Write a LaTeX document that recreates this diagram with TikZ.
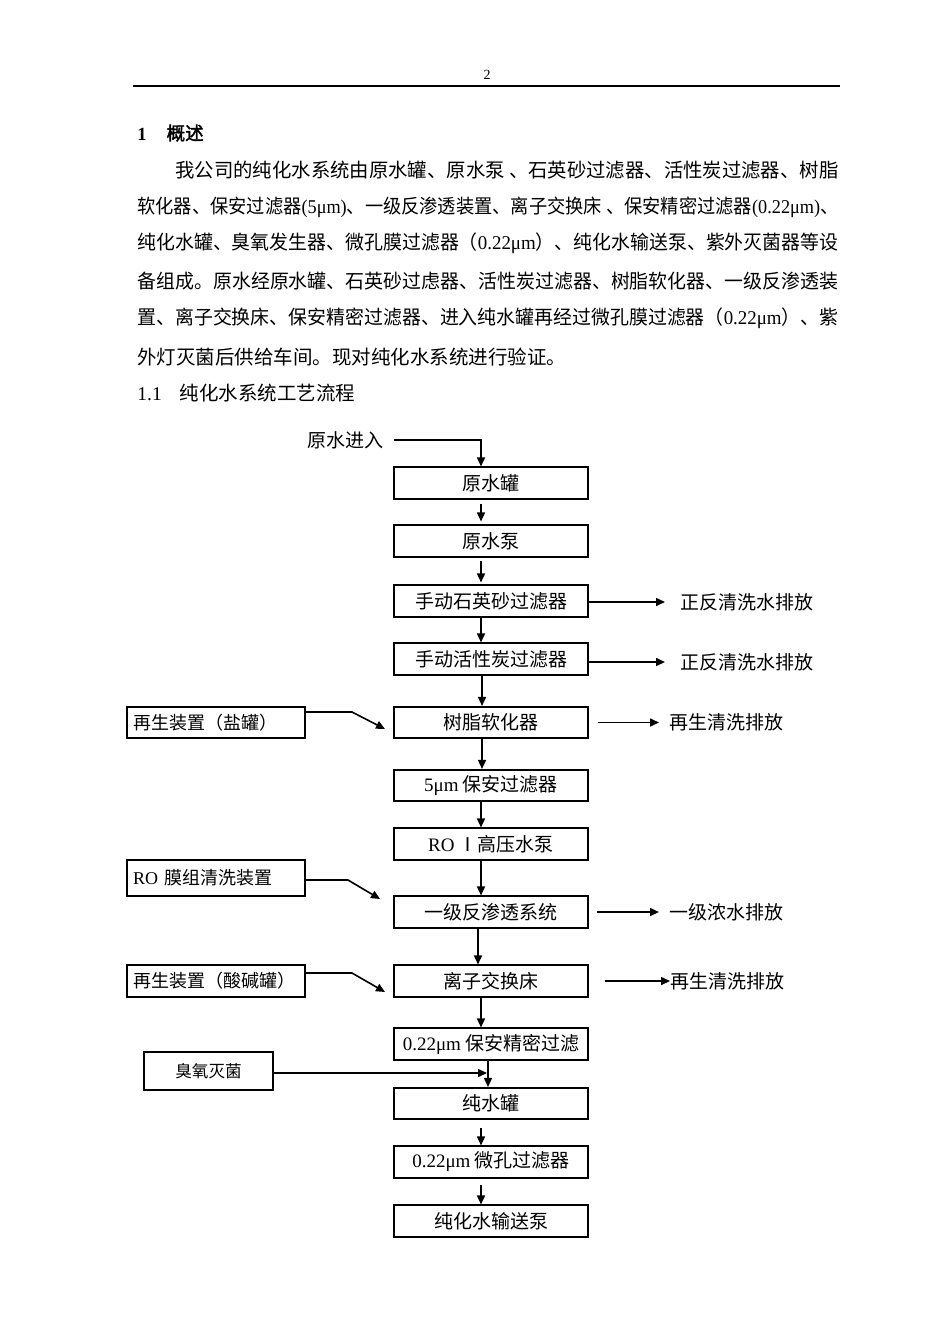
\documentclass[tikz,border=0pt]{standalone}
\usepackage{graphicx}
\usepackage{fontspec}
\setmainfont{Liberation Serif}
\newfontfamily\cjk{Noto Sans CJK SC}[AutoFakeBold=2]
\usetikzlibrary{arrows.meta}
\newcommand\en[1]{{\rmfamily #1}}
\newcommand\bodyline[2]{\resizebox{#1}{\height}{#2}}

\begin{document}
\begin{tikzpicture}[x=0.5pt, y=-0.5pt,
		body/.style={font=\cjk\fontsize{9.75}{12}\selectfont, inner sep=0pt, anchor=west},
		box/.style={draw, line width=0.8pt, minimum width=97pt, minimum height=15.75pt, inner sep=0pt, font=\cjk\fontsize{9.5}{11}\selectfont},
		side/.style={box, minimum width=89pt, text width=83pt, inner xsep=3pt, align=left, font=\cjk\fontsize{9}{11}\selectfont},
		drain/.style={inner sep=0pt, anchor=west, font=\cjk\fontsize{9.5}{11}\selectfont},
		flow/.style={line width=0.8pt, -{Triangle[length=4.5pt, width=4pt]}}]
			%%%%% START %%%%%
			
			\fill[white] (0, 0) rectangle (950, 1344);
			\useasboundingbox (0, 0) rectangle (950, 1344);
			
			% page head
			\node[inner sep=0pt, font=\fontsize{7}{8}\selectfont] (pageno) at (487, 75) {2};
			\draw[line width=0.6pt] (133, 86) -- (840, 86);
			
			% text
			\node[body, font=\cjk\bfseries\fontsize{9.25}{12}\selectfont] (title) at (137, 133) {\en{1}\hspace{10pt}概述};
			\node[body] (line1) at (175, 170) {\bodyline{331.5pt}{我公司的纯化水系统由原水罐、原水泵 、石英砂过滤器、活性炭过滤器、树脂}};
			\node[body] (line2) at (137, 207) {\bodyline{350.5pt}{软化器、保安过滤器\en{(5μm)}、一级反渗透装置、离子交换床 、保安精密过滤器\en{(0.22μm)}、}};
			\node[body] (line3) at (137, 243) {\bodyline{350.5pt}{纯化水罐、臭氧发生器、微孔膜过滤器（\en{0.22μm}）、纯化水输送泵、紫外灭菌器等设}};
			\node[body] (line4) at (137, 281) {\bodyline{350.5pt}{备组成。原水经原水罐、石英砂过虑器、活性炭过滤器、树脂软化器、一级反渗透装}};
			\node[body] (line5) at (137, 318) {\bodyline{350.5pt}{置、离子交换床、保安精密过滤器、进入纯水罐再经过微孔膜过滤器（\en{0.22μm}）、紫}};
			\node[body] (line6) at (137, 357) {外灯灭菌后供给车间。现对纯化水系统进行验证。};
			\node[body] (sec) at (137, 393) {\en{1.1}\hspace{9pt}纯化水系统工艺流程};
			
			% main line
			\node[drain, anchor=east] (rawin) at (384, 440) {原水进入};
			\node[box] (tank) at (491, 483) {原水罐};
			\node[box] (rawpump) at (491, 541) {原水泵};
			\node[box] (sand) at (491, 601) {手动石英砂过滤器};
			\node[box] (carbon) at (491, 659) {手动活性炭过滤器};
			\node[box] (soft) at (491, 722.5) {树脂软化器};
			\node[box] (fivemu) at (491, 785.5) {\en{5μm} 保安过滤器};
			\node[box] (ropump) at (491, 844) {\en{RO} Ⅰ高压水泵};
			\node[box] (ro) at (491, 912) {一级反渗透系统};
			\node[box] (ion) at (491, 981) {离子交换床};
			\node[box] (fine) at (491, 1044) {\en{0.22μm} 保安精密过滤};
			\node[box] (puretank) at (491, 1103.5) {纯水罐};
			\node[box] (micro) at (491, 1162) {\en{0.22μm} 微孔过滤器};
			\node[box] (sendpump) at (491, 1221) {纯化水输送泵};
			
			\coordinate (inlet) at (481, 440);
			\draw[flow] ([xshift=5pt]rawin.east) -- (inlet) -- (inlet |- tank.north);
			\draw[flow, shorten <=2pt, shorten >=1.5pt] ([xshift=-5pt]tank.south) -- ([xshift=-5pt]rawpump.north);
			\draw[flow, shorten <=1.5pt, shorten >=1pt] ([xshift=-5pt]rawpump.south) -- ([xshift=-5pt]sand.north);
			\draw[flow] ([xshift=-5pt]sand.south) -- ([xshift=-5pt]carbon.north);
			\draw[flow] ([xshift=-4.5pt]carbon.south) -- ([xshift=-4.5pt]soft.north);
			\draw[flow] ([xshift=-4.5pt]soft.south) -- ([xshift=-4.5pt]fivemu.north);
			\draw[flow] ([xshift=-5pt]fivemu.south) -- ([xshift=-5pt]ropump.north);
			\draw[flow] ([xshift=-5pt]ropump.south) -- ([xshift=-5pt]ro.north);
			\draw[flow] ([xshift=-6.5pt]ro.south) -- ([xshift=-6.5pt]ion.north);
			\draw[flow] ([xshift=-5pt]ion.south) -- ([xshift=-5pt]fine.north);
			\draw[flow] ([xshift=-1.5pt]fine.south) -- ([xshift=-1.5pt]puretank.north);
			\draw[flow, shorten <=4pt] ([xshift=-5pt]puretank.south) -- ([xshift=-5pt]micro.north);
			\draw[flow, shorten <=3pt] ([xshift=-5pt]micro.south) -- ([xshift=-5pt]sendpump.north);
			
			% feeds from the left
			\node[side] (salt) at (216, 722.5) {再生装置（盐罐）};
			\node[side, minimum height=18pt] (roclean) at (216, 878) {\en{RO} 膜组清洗装置};
			\node[side] (acid) at (216, 981) {再生装置（酸碱罐）};
			\node[box, line width=1pt, minimum width=64.5pt, minimum height=19pt, font=\cjk\fontsize{8.3}{10}\selectfont] (ozone) at (208.5, 1071) {臭氧灭菌};
			
			\coordinate (saltbend) at (352, 712);
			\coordinate (saltin) at (385, 729);
			\draw[flow] (salt.east |- saltbend) -- (saltbend) -- (saltin);
			\coordinate (rocleanbend) at (348, 880);
			\coordinate (rocleanin) at (380, 899);
			\draw[flow] (roclean.east |- rocleanbend) -- (rocleanbend) -- (rocleanin);
			\coordinate (acidbend) at (352, 973);
			\coordinate (acidin) at (385, 992);
			\draw[flow] (acid.east |- acidbend) -- (acidbend) -- (acidin);
			\coordinate (ozonein) at (487, 1073);
			\draw[flow] (ozone.east |- ozonein) -- (ozonein);
			
			% drains to the right
			\node[drain] (sanddrain) at (680, 602) {正反清洗水排放};
			\node[drain] (carbondrain) at (680, 662) {正反清洗水排放};
			\node[drain] (softdrain) at (669, 722.5) {再生清洗排放};
			\node[drain] (rodrain) at (669, 912) {一级浓水排放};
			\node[drain] (iondrain) at (670, 981) {再生清洗排放};
			
			\draw[flow] (sand.east |- sanddrain) -- ([xshift=-7.5pt]sanddrain.west);
			\draw[flow] (carbon.east |- carbondrain) -- ([xshift=-7.5pt]carbondrain.west);
			\draw[flow] ([xshift=4.5pt]soft.east) -- ([xshift=-5pt]softdrain.west);
			\draw[flow] ([xshift=4pt]ro.east) -- ([xshift=-5pt]rodrain.west);
			\draw[flow] ([xshift=8pt]ion.east) -- (iondrain.west);
			
			%%%%% END %%%%%
		\end{tikzpicture}
\end{document}
